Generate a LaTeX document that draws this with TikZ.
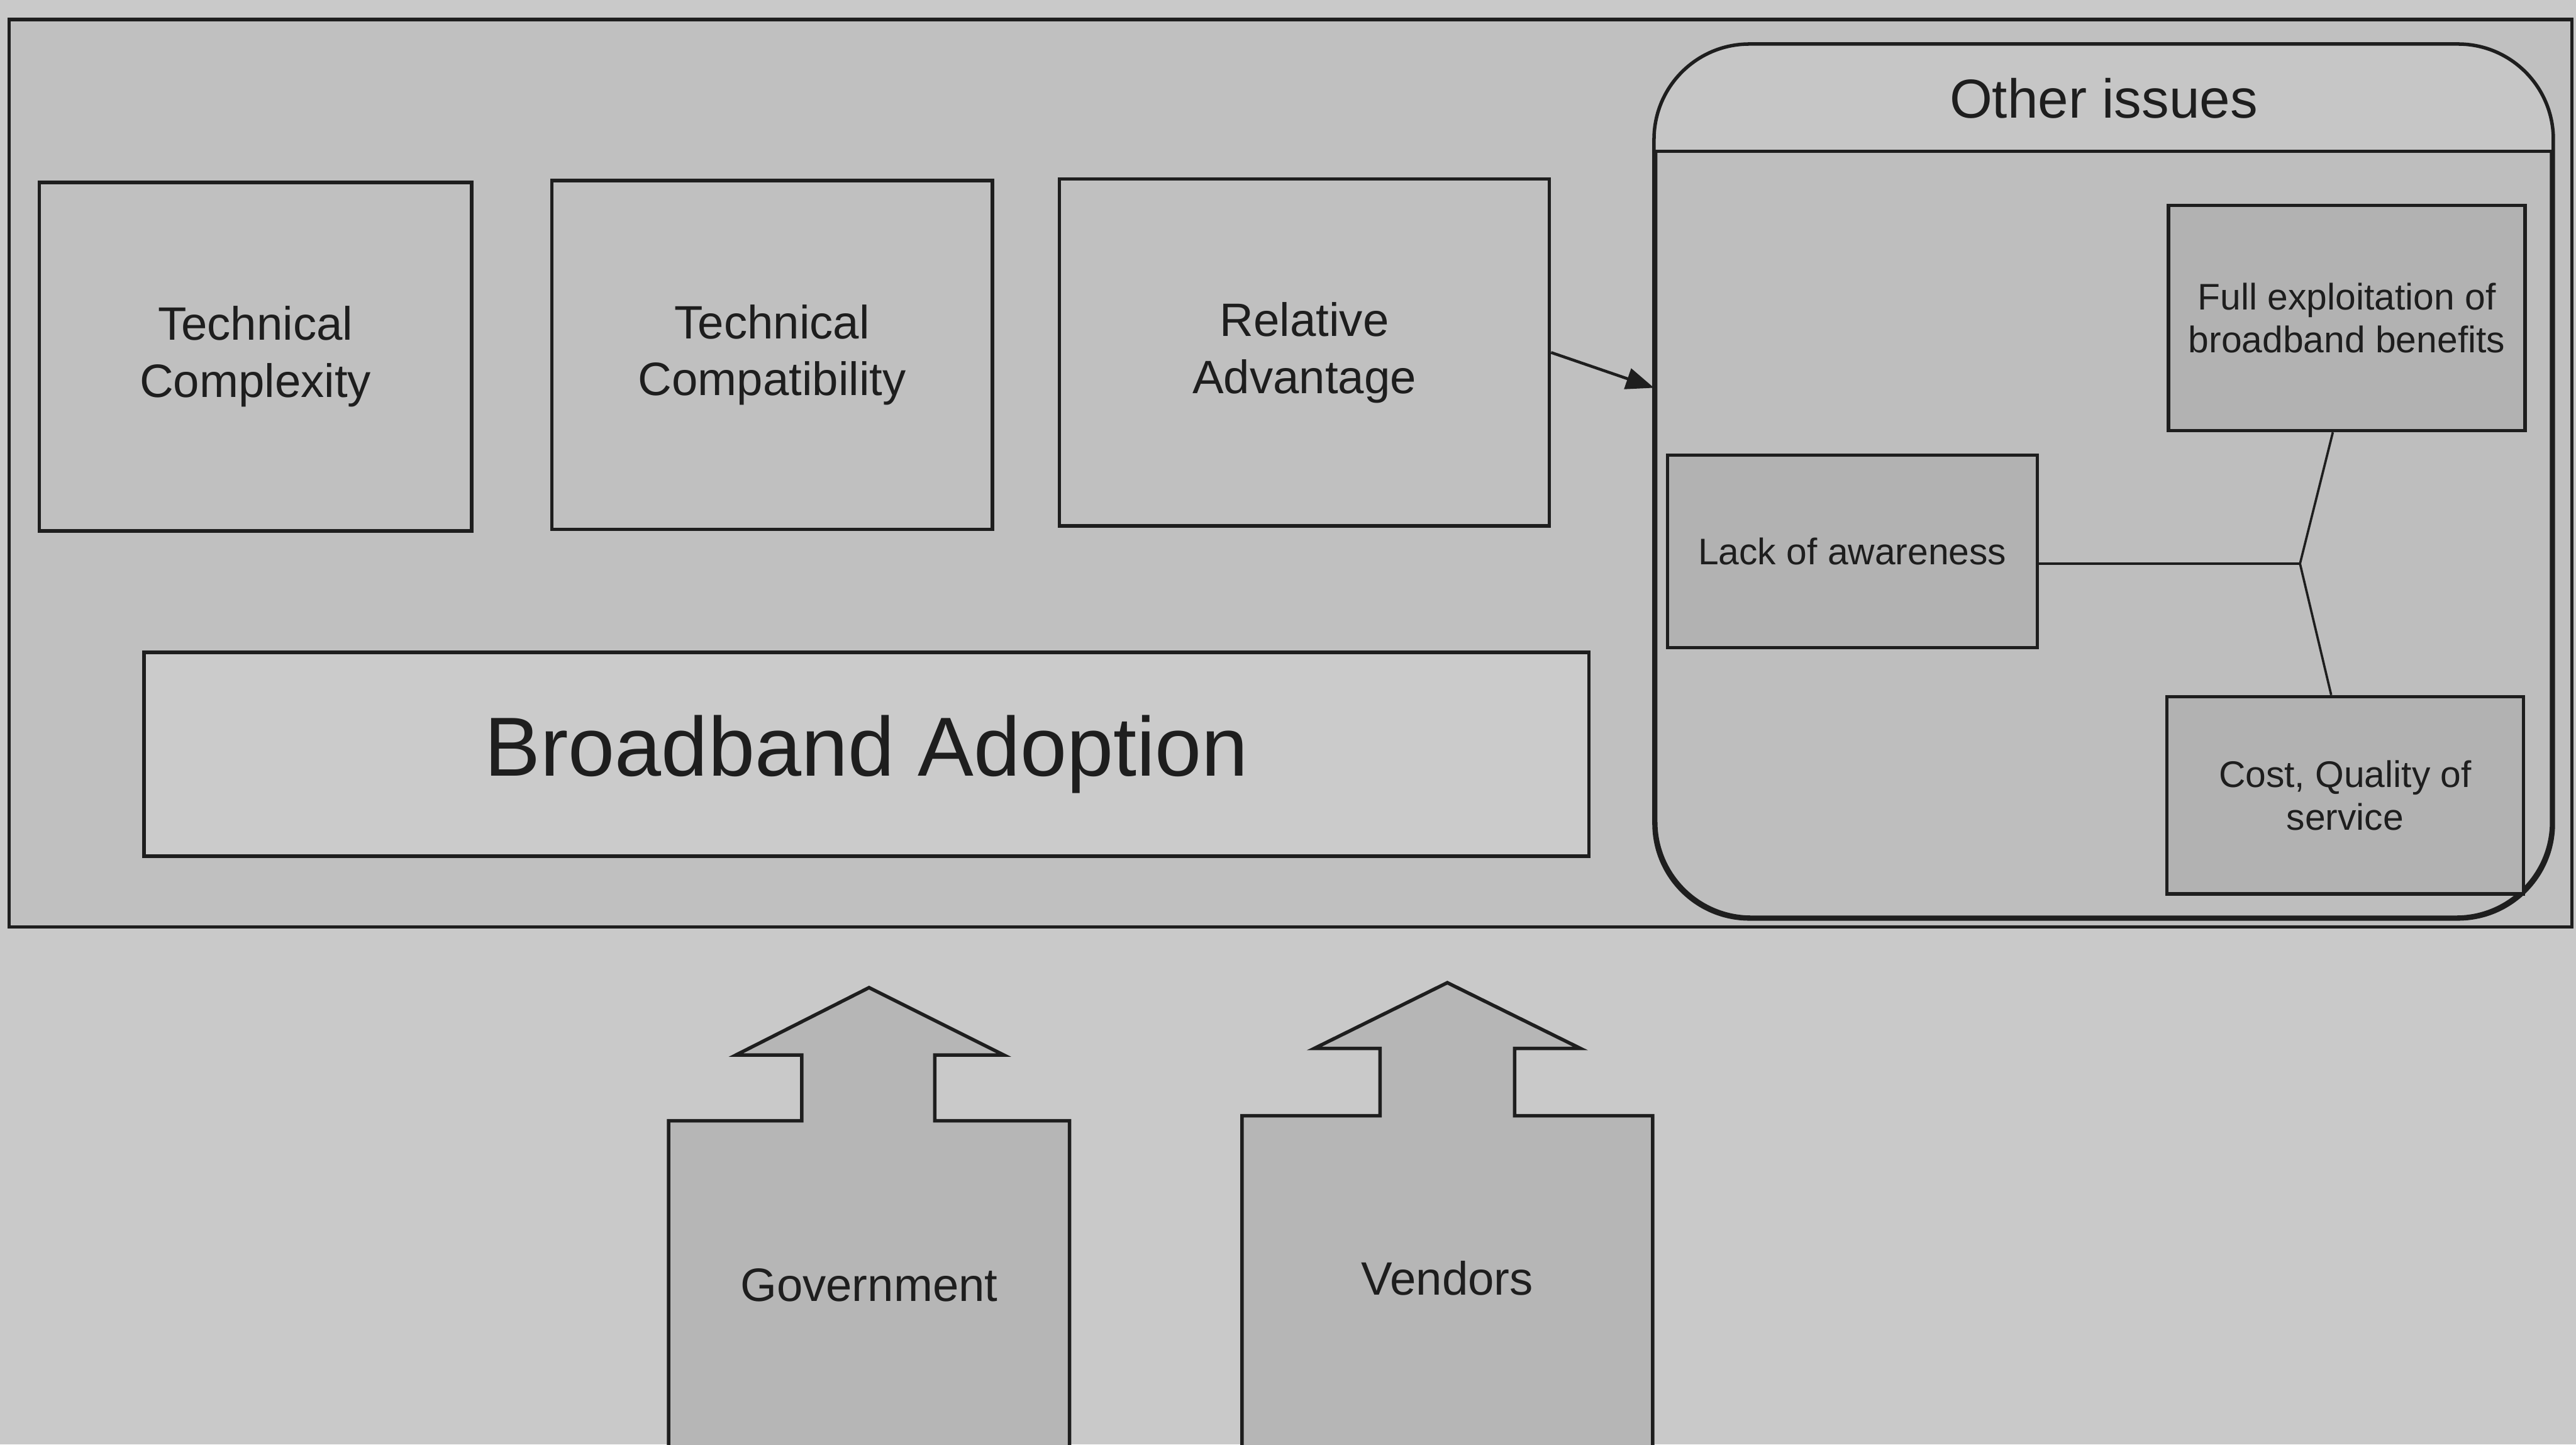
\documentclass[tikz,border=0pt]{standalone}
\usepackage{fontspec}
\setmainfont{Liberation Sans}
\usetikzlibrary{arrows.meta,calc}

\definecolor{pagegray}{HTML}{C9C9C9}
\definecolor{panelgray}{HTML}{C0C0C0}
\definecolor{lightbox}{HTML}{CBCBCB}
\definecolor{headgray}{HTML}{C6C6C6}
\definecolor{issuegray}{HTML}{BEBEBE}
\definecolor{darkbox}{HTML}{B2B2B2}
\definecolor{pushgray}{HTML}{B6B6B6}
\definecolor{inkgray}{HTML}{1E1E1E}

\begin{document}
\begin{tikzpicture}[x=0.01cm, y=-0.01cm,
    outline/.style={draw=inkgray, line width=0.6pt},
    factor/.style={outline, fill=panelgray, inner sep=0pt, align=center,
      text=inkgray, font=\fontsize{8.1pt}{9.9pt}\selectfont},
    issue/.style={outline, fill=darkbox, inner sep=0pt, align=center,
      text=inkgray, font=\fontsize{6.4pt}{7.4pt}\selectfont},
    pusher/.style={outline, fill=pushgray, line join=miter},
    pushlabel/.style={text=inkgray, font=\fontsize{8.1pt}{9.9pt}\selectfont},
    thinlink/.style={draw=inkgray, line width=0.4pt}]

  % page and clipping
  \path[use as bounding box, fill=pagegray] (0,0) rectangle (1568,879);
  \clip (0,0) rectangle (1568,879);

  % outer panel
  \node[outline, fill=panelgray, minimum width=15.59cm, minimum height=5.52cm,
        inner sep=0pt] (panel) at (785.5,288) {};

  % adoption factors
  \node[factor, minimum width=2.63cm, minimum height=2.12cm] (tcx) at (155.5,217)
    {Technical\\Complexity};
  \node[factor, minimum width=2.68cm, minimum height=2.12cm] (tcp) at (470,216)
    {Technical\\Compatibility};
  \node[factor, minimum width=2.98cm, minimum height=2.11cm] (rel) at (794,214.5)
    {Relative\\Advantage};

  % central box
  \node[outline, fill=lightbox, minimum width=8.79cm, minimum height=1.24cm,
        inner sep=0pt, text=inkgray, font=\fontsize{14.5pt}{17pt}\selectfont]
    (bba) at (527.5,459) {Broadband Adoption};

  % other issues container
  \node[outline, fill=issuegray, rounded corners=0.58cm, minimum width=5.45cm,
        minimum height=5.30cm, inner sep=0pt] (other) at (1280.5,293) {};
  \coordinate (hd) at (0,92);
  \begin{scope}
    \clip[rounded corners=0.58cm] (other.north west) rectangle (other.south east);
    \fill[headgray] (other.north west) rectangle (other.east |- hd);
  \end{scope}
  \draw[outline, rounded corners=0.58cm] (other.north west) rectangle (other.south east);
  \draw[outline] (other.west |- hd) -- (other.east |- hd);
  \node[text=inkgray, font=\fontsize{9.5pt}{11pt}\selectfont] (othertitle)
    at (1280.5,60) {Other issues};

  % issue boxes
  \node[issue, minimum width=2.17cm, minimum height=1.37cm] (full) at (1428.5,193.5)
    {Full exploitation of\\broadband benefits};
  \node[issue, minimum width=2.25cm, minimum height=1.17cm] (lack) at (1127.5,335.5)
    {Lack of awareness};
  \node[issue, minimum width=2.17cm, minimum height=1.20cm] (cost) at (1427.5,484)
    {Cost, Quality of\\service};

  % issue links
  \coordinate (j) at (1400,343);
  \draw[thinlink] (lack.east |- j) -- (j) -- ([xshift=-0.085cm]full.south);
  \draw[thinlink] (j) -- ([xshift=-0.085cm]cost.north);

  % advantage to other issues
  \draw[draw=inkgray, line width=0.5pt, -{Triangle[length=0.17cm, width=0.13cm]}]
    (rel.east) -- (other.west |- 0,236);

  % supporting actors
  \draw[pusher] (529,601) -- (611,642) -- (569,642) -- (569,682) -- (651,682)
    -- (651,900) -- (407,900) -- (407,682) -- (488,682) -- (488,642) -- (448,642) -- cycle;
  \node[pushlabel] (gov) at (529,782) {Government};

  \draw[pusher] (881,598) -- (962,638) -- (922,638) -- (922,679) -- (1006,679)
    -- (1006,900) -- (756,900) -- (756,679) -- (840,679) -- (840,638) -- (800,638) -- cycle;
  \node[pushlabel] (ven) at (881,778) {Vendors};
\end{tikzpicture}
\end{document}
